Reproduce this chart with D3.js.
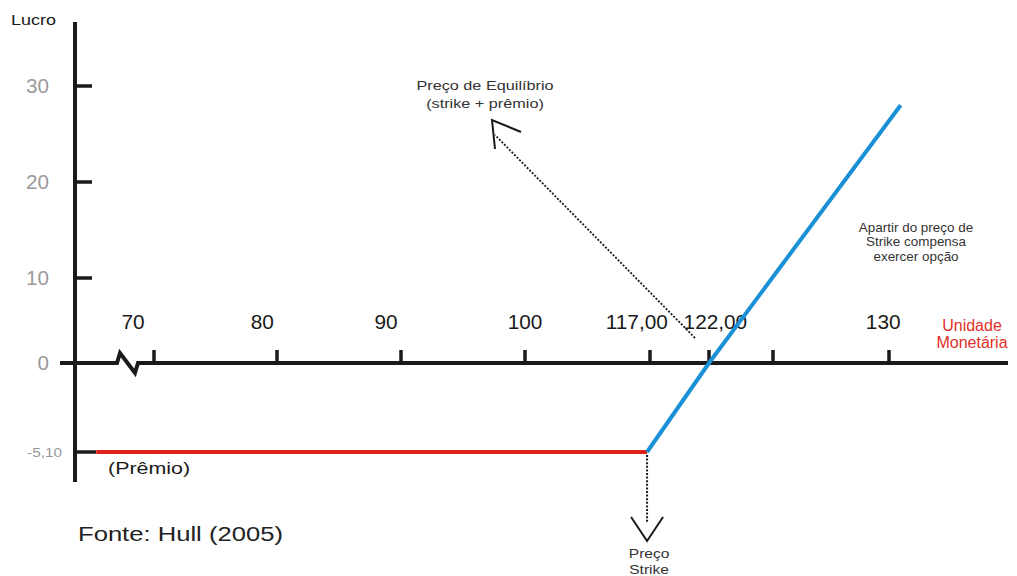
<!DOCTYPE html>
<html>
<head>
<meta charset="utf-8">
<script src="https://cdn.jsdelivr.net/npm/d3@7"></script>
<style>
  body { margin: 0; background: #fff; }
  text { font-family: "Liberation Sans", Arial, sans-serif; }
</style>
</head>
<body>
<svg id="chart" width="1017" height="576"></svg>
<script>
// tick values on the (schematic) price axis
let x_ticks = [70, 80, 90, 100, 117, 122, 127, 130];
let x_labels = ['70', '80', '90', '100', '117,00', '122,00', '130'];
let x_label_at = [68.3, 78.8, 88.8, 100, 115.2, 122.5, 129.85];

let y_ticks = [30, 20, 10, 0, -5.1];
let y_labels = ['30', '20', '10', '0', '-5,10'];

// payoff of the call (premium part and in-the-money part)
let premio_line = [[65.3, -5.1], [116.6, -5.1]];
let lucro_line = [[116.6, -5.1], [122, 0], [130.3, 28.0]];

let svg = d3.select('#chart');

// the drawing is schematic, so both scales are piecewise
var x_range = d3.scaleLinear()
    .domain([70, 80, 90, 100, 117, 122, 127, 130])
    .range([154, 277, 401, 525, 650, 709, 773, 889]);

var y_range = d3.scaleLinear()
    .domain([-5.1, 0, 10, 20, 30])
    .range([452, 363, 278, 182, 86]);

let axis_x = 75;
let axis_y = y_range(0);

// the original lettering is a bit stretched sideways
function add_text(lines, x, y, size, sx, anchor, color, lh) {
    let g = svg.append('g').attr('transform', 'translate(' + x + ',' + y + ') scale(' + sx + ',1)');
    let t = g.append('text')
        .attr('text-anchor', anchor)
        .attr('font-size', size)
        .attr('fill', color);
    lines.forEach((s, i) => {
        t.append('tspan').attr('x', 0).attr('y', i * (lh || 0)).text(s);
    });
    return t;
}

// vertical axis
svg.append('line')
    .attr('x1', axis_x).attr('x2', axis_x)
    .attr('y1', 22).attr('y2', 482)
    .attr('stroke', '#1a1a1a').attr('stroke-width', 4);

y_ticks.forEach((d, i) => {
    if (d !== 0) {
        svg.append('line')
            .attr('x1', axis_x).attr('x2', axis_x + (d < 0 ? 21 : 17))
            .attr('y1', y_range(d)).attr('y2', y_range(d))
            .attr('stroke', '#1a1a1a').attr('stroke-width', 3.5);
    }
    if (d < 0) {
        add_text([y_labels[i]], 62, y_range(d) + 4.5, 13, 1.18, 'end', '#9a9a9a');
    } else {
        add_text([y_labels[i]], 49, y_range(d) + 7, 19.5, 1.06, 'end', '#9a9a9a');
    }
});

add_text(['Lucro'], 11, 25, 15, 1.2, 'start', '#1a1a1a');

// horizontal axis with the break mark
svg.append('path')
    .attr('d', 'M60,' + axis_y + 'H117L120,' + (axis_y - 10) + 'L135,' + (axis_y + 10) +
        'L138,' + axis_y + 'H1008')
    .attr('fill', 'none')
    .attr('stroke', '#1a1a1a').attr('stroke-width', 4)
    .attr('stroke-linejoin', 'miter');

x_ticks.forEach(d => {
    svg.append('line')
        .attr('x1', x_range(d)).attr('x2', x_range(d))
        .attr('y1', axis_y).attr('y2', axis_y - 13)
        .attr('stroke', '#1a1a1a').attr('stroke-width', 3.5);
});

x_labels.forEach((t, i) => {
    add_text([t], x_range(x_label_at[i]), 329, 20, 1.04, 'middle', '#1a1a1a');
});

add_text(['Unidade', 'Monetária'], 972, 331, 16, 1, 'middle', '#e0302c', 17);

// payoff lines
let line = d3.line()
    .x(d => x_range(d[0]))
    .y(d => y_range(d[1]));

svg.append('path')
    .attr('d', line(premio_line))
    .attr('fill', 'none').attr('stroke', '#e0201c').attr('stroke-width', 4);

svg.append('path')
    .attr('d', line(lucro_line))
    .attr('fill', 'none').attr('stroke', '#1a90d6').attr('stroke-width', 4);

add_text(['(Prêmio)'], 108, 474, 17, 1.26, 'start', '#1a1a1a');

// dotted arrow to the break-even label
svg.append('line')
    .attr('x1', 695).attr('y1', 338).attr('x2', 495).attr('y2', 135)
    .attr('stroke', '#1a1a1a').attr('stroke-width', 1.8)
    .attr('stroke-dasharray', '2,1.6');
svg.append('path')
    .attr('d', 'M521,132L492,120L495,149')
    .attr('fill', 'none').attr('stroke', '#1a1a1a').attr('stroke-width', 2);

add_text(['Preço de Equilíbrio', '(strike + prêmio)'], 485, 90, 12.5, 1.3, 'middle', '#333', 18);

// dotted arrow down to the strike price
let strike_x = x_range(116.6);
svg.append('line')
    .attr('x1', strike_x).attr('y1', 455).attr('x2', strike_x).attr('y2', 522)
    .attr('stroke', '#1a1a1a').attr('stroke-width', 2)
    .attr('stroke-dasharray', '2,1.6');
svg.append('path')
    .attr('d', 'M' + (strike_x - 16) + ',517L' + strike_x + ',541L' + (strike_x + 16) + ',517')
    .attr('fill', 'none').attr('stroke', '#1a1a1a').attr('stroke-width', 2);

add_text(['Preço', 'Strike'], strike_x + 2, 558, 13.5, 1.15, 'middle', '#333', 16);

add_text(['Apartir do preço de', 'Strike compensa', 'exercer opção'], 916, 232, 12, 1.12, 'middle', '#333', 14.5);

add_text(['Fonte: Hull (2005)'], 78, 541, 21, 1.22, 'start', '#222');
</script>
</body>
</html>
